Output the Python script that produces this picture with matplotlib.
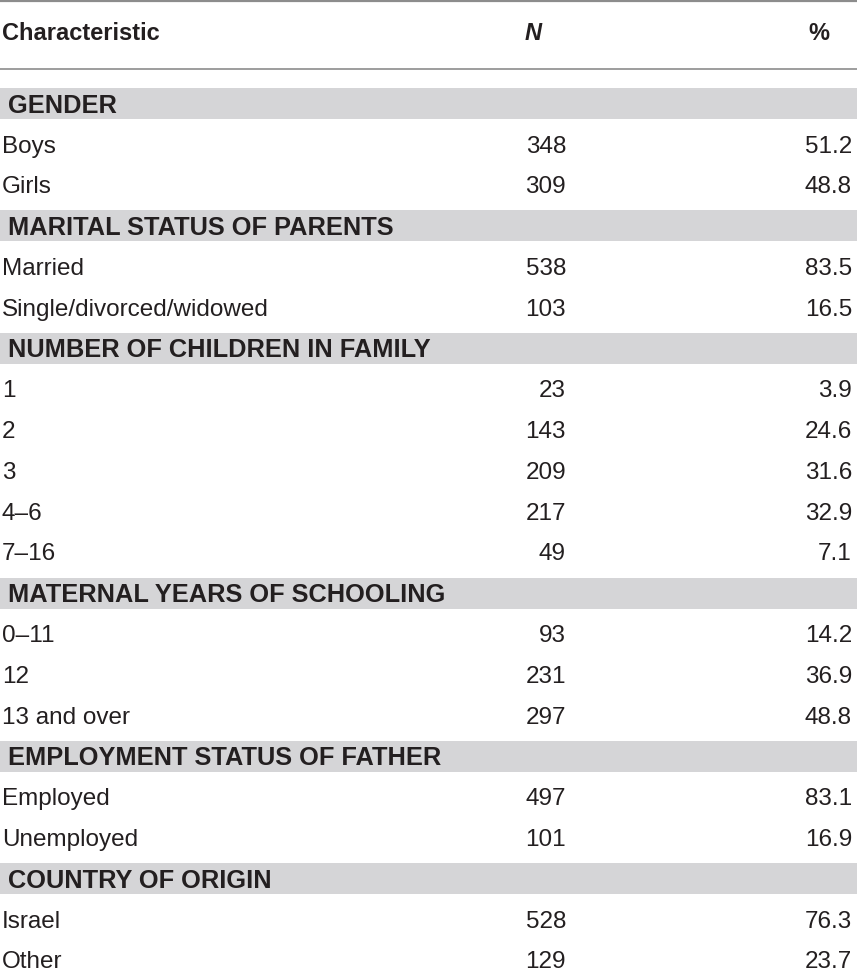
import matplotlib
matplotlib.use("Agg")
import matplotlib.pyplot as plt
from matplotlib.patches import Rectangle

plt.rcParams['font.family'] = ['Liberation Sans', 'DejaVu Sans']

# ---- data ----
col_headers = ["Characteristic", "N", "%"]
sections = [
    "GENDER",
    "MARITAL STATUS OF PARENTS",
    "NUMBER OF CHILDREN IN FAMILY",
    "MATERNAL YEARS OF SCHOOLING",
    "EMPLOYMENT STATUS OF FATHER",
    "COUNTRY OF ORIGIN",
]
row_labels = [
    ["Boys", "Girls"],
    ["Married", "Single/divorced/widowed"],
    ["1", "2", "3", "4\u20136", "7\u201316"],
    ["0\u201311", "12", "13 and over"],
    ["Employed", "Unemployed"],
    ["Israel", "Other"],
]
n_values = [
    [348, 309],
    [538, 103],
    [23, 143, 209, 217, 49],
    [93, 231, 297],
    [497, 101],
    [528, 129],
]
pct_values = [
    [51.2, 48.8],
    [83.5, 16.5],
    [3.9, 24.6, 31.6, 32.9, 7.1],
    [14.2, 36.9, 48.8],
    [83.1, 16.9],
    [76.3, 23.7],
]

# ---- layout ----
W, H = 857, 969
fig = plt.figure(figsize=(W / 100, H / 100), dpi=100)
ax = fig.add_axes([0, 0, 1, 1])
ax.set_xlim(0, W)
ax.set_ylim(H, 0)
ax.axis('off')

txt = '#231f20'
band = '#d5d5d7'
line = '#8c8c8c'
fs = 17.5
fs_sec = 18.3
fs_head = 17

x_left = 2
x_sec = 8
x_n = 566
x_pct = 852
x_hn = 533
x_hp = 819

y0 = 103.5
step = 40.8
cap = 8.2

# top rules
ax.plot([0, W], [1, 1], color=line, lw=1.6)
ax.plot([0, W], [69, 69], color=line, lw=1.2)
ax.text(x_left, 32 + cap, col_headers[0], fontsize=fs_head, fontweight='bold',
        color=txt, ha='left', va='baseline')
ax.text(x_hn, 32 + cap, col_headers[1], fontsize=fs_head, fontweight='bold',
        fontstyle='italic', color=txt, ha='center', va='baseline')
ax.text(x_hp, 32 + cap, col_headers[2], fontsize=fs_head, fontweight='bold',
        color=txt, ha='center', va='baseline')

i = 0
for s, labels, ns, ps in zip(sections, row_labels, n_values, pct_values):
    yc = y0 + step * i
    ax.add_patch(Rectangle((0, yc - 15.5), W, 31, facecolor=band,
                           edgecolor='none'))
    ax.text(x_sec, yc + cap + 0.8, s, fontsize=fs_sec, fontweight='bold',
            color=txt, ha='left', va='baseline')
    i += 1
    for lab, n, p in zip(labels, ns, ps):
        yc = y0 + step * i
        ax.text(x_left, yc + cap, lab, fontsize=fs, color=txt,
                ha='left', va='baseline')
        ax.text(x_n, yc + cap, f"{n}", fontsize=fs, color=txt,
                ha='right', va='baseline')
        ax.text(x_pct, yc + cap, f"{p:.1f}", fontsize=fs, color=txt,
                ha='right', va='baseline')
        i += 1

fig.savefig('out.png', dpi=100)
